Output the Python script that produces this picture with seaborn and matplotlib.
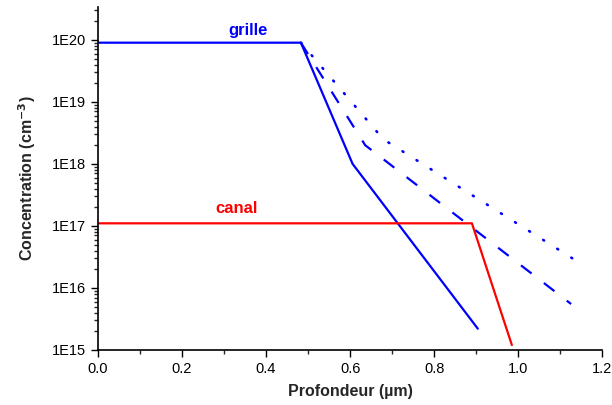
import numpy as np
import pandas as pd
import matplotlib
matplotlib.use('Agg')
import matplotlib.pyplot as plt
import matplotlib.ticker as mticker
import seaborn as sns

# Profiles (depth in um, concentration in cm^-3)
grille_solid_x = [0.0, 0.483, 0.606, 0.904]
grille_solid_y = [9.0e19, 9.0e19, 1.0e18, 2.2e15]

grille_dash_x = [0.483, 0.636, 1.126]
grille_dash_y = [9.0e19, 2.0e18, 5.5e15]

grille_dot_x = [0.483, 0.679, 1.136]
grille_dot_y = [9.0e19, 2.5e18, 2.8e16]

canal_x = [0.0, 0.89, 0.985]
canal_y = [1.1e17, 1.1e17, 1.2e15]

sns.set_style('ticks')
plt.rcParams['font.family'] = ['Liberation Sans', 'DejaVu Sans']

fig = plt.figure(figsize=(6.12, 4.05), dpi=100)
ax = fig.add_axes([0.160, 0.136, 0.824, 0.847])

lw = 1.6
sns.lineplot(x=grille_solid_x, y=grille_solid_y, color='#0000ff', lw=lw, ax=ax, sort=False)
l = sns.lineplot(x=grille_dash_x, y=grille_dash_y, color='#0000ff', lw=lw, ax=ax, sort=False).lines[-1]
l.set_dashes((6, 7))
l = sns.lineplot(x=grille_dot_x, y=grille_dot_y, color='#0000ff', lw=lw + 0.3, ax=ax, sort=False).lines[-1]
l.set_dashes((0.4, 5.9))
l.set_dash_capstyle('round')
sns.lineplot(x=canal_x, y=canal_y, color='#ff0000', lw=lw, ax=ax, sort=False)

ax.set_yscale('log')
ax.set_xlim(0, 1.2)
ax.set_ylim(1e15, 3.4e20)

ax.xaxis.set_major_locator(mticker.MultipleLocator(0.2))
ax.xaxis.set_minor_locator(mticker.MultipleLocator(0.1))
ax.xaxis.set_major_formatter(mticker.FormatStrFormatter('%.1f'))
ax.yaxis.set_major_locator(mticker.LogLocator(base=10, numticks=10))
ax.yaxis.set_minor_locator(mticker.LogLocator(base=10, subs=np.arange(2, 10), numticks=20))
ax.yaxis.set_major_formatter(mticker.FuncFormatter(lambda v, p: '1E%d' % round(np.log10(v))))
ax.yaxis.set_minor_formatter(mticker.NullFormatter())

ax.tick_params(which='major', direction='out', length=5, width=1, labelsize=10.5, colors='black')
ax.tick_params(which='minor', direction='out', length=3, width=1)
for s in ['left', 'bottom']:
    ax.spines[s].set_linewidth(1.2)
    ax.spines[s].set_color('black')
sns.despine(ax=ax)

ax.set_xlabel('Profondeur (µm)', fontsize=11.5, fontweight='bold', labelpad=6)
ax.set_ylabel('Concentration (cm$^{\\mathbf{-3}}$)', fontsize=11.5, fontweight='bold', labelpad=10)

ax.text(0.357, 1.4e20, 'grille', color='#0000ff', fontsize=12, fontweight='bold', ha='center', va='center')
ax.text(0.33, 1.9e17, 'canal', color='#ff0000', fontsize=12, fontweight='bold', ha='center', va='center')

fig.savefig('out.png', dpi=100)
